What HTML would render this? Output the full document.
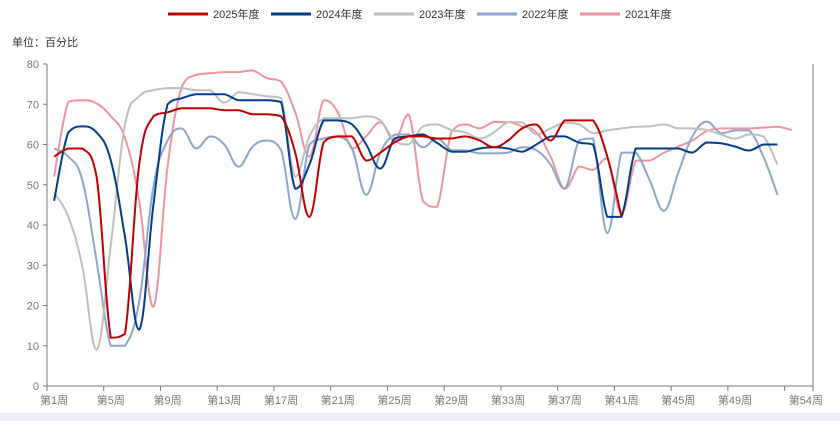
<!DOCTYPE html>
<html><head><meta charset="utf-8">
<style>
html,body{margin:0;padding:0;background:#fff;}
body{width:840px;height:421px;overflow:hidden;position:relative;font-family:"Liberation Sans","Noto Sans CJK SC",sans-serif;}
svg text{font-family:"Liberation Sans","Noto Sans CJK SC",sans-serif;}
</style></head>
<body>
<svg id="chart" width="840" height="421" xmlns="http://www.w3.org/2000/svg">
<rect x="0" y="413" width="840" height="8" fill="#E9EDF6"/>
<text x="12" y="46" font-size="11" fill="#333">单位：百分比</text>
<g id="legend"></g>
<g id="axes"></g>
<g id="series"></g>
</svg>
<script>
const years = ["2025年度","2024年度","2023年度","2022年度","2021年度"];
const colors = ["#C00000","#003E8A","#BFBFBF","#8EA5CC","#F1949F"];
const yTicks = [0,10,20,30,40,50,60,70,80];
const xLabelWeeks = [1,5,9,13,17,21,25,29,33,37,41,45,49,54];
const s2025 = [57,59,59,52,12,13,55,67,68,69,69,69,68.5,68.5,67.5,67.5,67,58,42,60.5,62,62,56,58,60.5,62,62,61.5,61.5,62,61,59.3,61,64,65,61,66,66,66,57,42];
const s2024 = [46,63,64.5,63,56,37,14,45,70,71.5,72.5,72.5,72.5,71,71,71,70.5,49,55,66,66,65,60,54,61.5,62,62.5,60.4,58.2,58.2,59,59.3,59,58.2,60,62,62,60.5,60,42,42,59,59,59,59,58,60.5,60.3,59.5,58.5,60,60];
const s2023 = [48,42,29.5,9,35,65,72,73.5,74,74,73.5,73.5,70.4,73,72.5,72,71.5,52,62,66.5,66.5,66.5,67,66,61,60,64.5,65,63.6,63,61.5,63,65.6,65.5,62.5,64,65.4,65,62.8,63.5,64,64.4,64.5,65,64,64,63.6,62.5,61.5,62.5,62,55];
const s2022 = [59,57,51,31,10,10,21,49.5,61,64,59,62,60,54.5,59.5,61,58.6,41.5,60,61.5,62,59,47.5,58,62.4,62.5,59.3,61.5,58.6,58.5,57.8,57.8,58,59.3,58.6,55,49,61,61.5,38,58,58,51,43.5,53,62,65.7,62.8,63.5,63.5,57,47.5];
const s2021 = [52,70.6,71,70.2,67,61.6,46,19.7,54.5,74.3,77.3,77.7,78,78,78.4,76.5,75.6,68,57,71,68,59,62,65.5,61,67.5,46,44.5,63,65,64,65.6,65.6,64.5,63,57,49,54.5,53.7,56.6,43,56,56,58,59.5,61,63.3,64,64,64,64.2,64.4,63.6];
const allSeries = [s2025,s2024,s2023,s2022,s2021];

const NS="http://www.w3.org/2000/svg";
const X0=47, X1=813, Y0=386, Y1=64, NCAT=54;
const bw=(X1-X0)/NCAT;
function xPos(w){return X0+(w-0.5)*bw;}
function xEdge(i){return X0+i*bw;}
function yPos(v){return Y0-(v-0)/(80-0)*(Y0-Y1);}
function mk(tag,attrs,parent){const e=document.createElementNS(NS,tag);for(const k in attrs)e.setAttribute(k,attrs[k]);parent.appendChild(e);return e;}

const axes=document.getElementById('axes');
const yAxis=mk('line',{x1:X0,y1:Y1,x2:X0,y2:Y0,stroke:'#7A7A7A','stroke-width':1},axes);


const rAxis=mk('line',{x1:X1,y1:Y1,x2:X1,y2:Y0,stroke:'#7A7A7A','stroke-width':1},axes);


const xAxis=mk('line',{x1:X0,y1:Y0,x2:X1,y2:Y0,stroke:'#7A7A7A','stroke-width':1},axes);


yTicks.forEach(v=>{
  const y=yPos(v);
  const t=mk('line',{x1:X0-4,y1:y,x2:X0,y2:y,stroke:'#7A7A7A'},axes);
  
  
  const l=mk('text',{x:X0-8,y:y+4,'font-size':11,fill:'#777','text-anchor':'end'},axes);
  l.textContent=v;
  
  
});
xLabelWeeks.forEach(w=>{
  const edge = w===54 ? 52 : w-1;
  const xe=xEdge(edge);
  const t=mk('line',{x1:xe,y1:Y0,x2:xe,y2:Y0+5,stroke:'#7A7A7A'},axes);
  
  
  const l=mk('text',{x:xPos(w),y:Y0+18,'font-size':11,fill:'#777','text-anchor':'middle'},axes);
  l.textContent='第'+w+'周';
  
  
});
const endTick=mk('line',{x1:X1,y1:Y0,x2:X1,y2:Y0+5,stroke:'#7A7A7A'},axes);



function clamp(v,a,b){const lo=Math.min(a,b),hi=Math.max(a,b);return Math.max(lo,Math.min(hi,v));}
function smoothPath(pts){
  let d='M'+pts[0][0]+','+pts[0][1];
  const t=0.2;
  for(let i=0;i<pts.length-1;i++){
    const p0=pts[i-1]||pts[i],p1=pts[i],p2=pts[i+1],p3=pts[i+2]||p2;
    const c1x=p1[0]+(p2[0]-p0[0])*t, c1y=clamp(p1[1]+(p2[1]-p0[1])*t,p1[1],p2[1]);
    const c2x=p2[0]-(p3[0]-p1[0])*t, c2y=clamp(p2[1]-(p3[1]-p1[1])*t,p1[1],p2[1]);
    d+=' C'+c1x.toFixed(1)+','+c1y.toFixed(1)+' '+c2x.toFixed(1)+','+c2y.toFixed(1)+' '+p2[0].toFixed(1)+','+p2[1].toFixed(1);
  }
  return d;
}
const sg=document.getElementById('series');
for(let k=allSeries.length-1;k>=0;k--){
  const pts=allSeries[k].map((v,i)=>[xPos(i+1),yPos(v)]);
  const p=mk('path',{d:smoothPath(pts),fill:'none',stroke:colors[k],'stroke-width':2,'stroke-linejoin':'round'},sg);
  
  
}
const lg=document.getElementById('legend');
const lx=[168,271,374,477,580];
years.forEach((n,i)=>{
  const g=mk('g',{},lg);
  
  
  mk('line',{x1:lx[i],y1:14,x2:lx[i]+40,y2:14,stroke:colors[i],'stroke-width':3},g);
  const t=mk('text',{x:lx[i]+45,y:18,'font-size':11,fill:'#333'},g);
  t.textContent=n;
});
</script>
</body></html>
